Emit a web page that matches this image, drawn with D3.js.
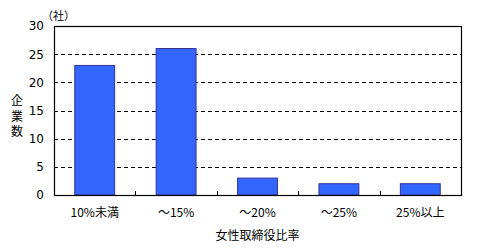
<!DOCTYPE html>
<html>
<head>
<meta charset="utf-8">
<script src="https://cdn.jsdelivr.net/npm/d3@7"></script>
<style>
  body { margin: 0; background: #fff; }
  text { font-family: "Noto Sans CJK JP", "DejaVu Sans", sans-serif; fill: #000; }
</style>
</head>
<body>
<svg id="chart"></svg>
<script>
var categories = ['10%未満', '～15%', '～20%', '～25%', '25%以上'];
var counts = [23, 26, 3, 2, 2];
var yTicks = [0, 5, 10, 15, 20, 25, 30];

var width = 477;
var height = 250;
var margin = { top: 26, bottom: 55, left: 54, right: 16 };

var svg = d3.select('#chart')
            .attr('width', width)
            .attr('height', height);

var xScale = d3.scaleBand()
               .domain(categories)
               .range([margin.left, width - margin.right])
               .paddingInner(0)
               .paddingOuter(0);

var yScale = d3.scaleLinear()
               .domain([0, 30])
               .range([height - margin.bottom, margin.top]);

// dashed grid lines
svg.append('g')
   .selectAll('line')
   .data(yTicks.filter(function(d){ return d > 0 && d < 30; }))
   .enter().append('line')
   .attr('x1', margin.left)
   .attr('x2', width - margin.right)
   .attr('y1', function(d){ return Math.round(yScale(d)) + 0.5; })
   .attr('y2', function(d){ return Math.round(yScale(d)) + 0.5; })
   .attr('stroke', '#000')
   .attr('stroke-width', 1)
   .attr('stroke-dasharray', '4,3');

// bars
var barW = xScale.bandwidth() * 0.49;
svg.append('g')
   .selectAll('rect')
   .data(counts)
   .enter().append('rect')
   .attr('x', function(d, i){ return xScale(categories[i]) + (xScale.bandwidth() - barW) / 2; })
   .attr('y', function(d){ return yScale(d); })
   .attr('width', barW)
   .attr('height', function(d){ return yScale(0) - yScale(d); })
   .attr('fill', '#3366ff')
   .attr('stroke', '#333399')
   .attr('stroke-width', 1);

// plot frame
svg.append('rect')
   .attr('x', margin.left + 0.5)
   .attr('y', margin.top + 0.5)
   .attr('width', width - margin.right - margin.left)
   .attr('height', height - margin.bottom - margin.top)
   .attr('fill', 'none')
   .attr('stroke', '#000')
   .attr('stroke-width', 1.2);

// y axis labels
var yAxis = d3.axisLeft(yScale).tickValues(yTicks).tickSize(0).tickPadding(10);
svg.append('g')
   .attr('transform', 'translate(' + margin.left + ',0)')
   .call(yAxis)
   .call(function(g){ g.select('.domain').remove(); })
   .selectAll('text')
   .style('font-size', '12px')
   .style('font-family', '"DejaVu Sans", sans-serif');

// x axis: small inner ticks at category boundaries
var bounds = categories.slice(1).map(function(c){ return xScale(c); });
svg.append('g')
   .selectAll('line')
   .data(bounds)
   .enter().append('line')
   .attr('x1', function(d){ return Math.round(d) + 0.5; })
   .attr('x2', function(d){ return Math.round(d) + 0.5; })
   .attr('y1', yScale(0))
   .attr('y2', yScale(0) - 4)
   .attr('stroke', '#000')
   .attr('stroke-width', 1);

var xAxis = d3.axisBottom(xScale).tickSize(0).tickPadding(13);
svg.append('g')
   .attr('transform', 'translate(0,' + yScale(0) + ')')
   .call(xAxis)
   .call(function(g){ g.select('.domain').remove(); })
   .selectAll('text')
   .style('font-size', '12px')
   .style('font-family', '"Noto Sans CJK JP", sans-serif');

// axis titles
svg.append('text')
   .attr('x', (margin.left + width - margin.right) / 2)
   .attr('y', 240)
   .attr('text-anchor', 'middle')
   .style('font-size', '12px')
   .text('女性取締役比率');

var yTitle = ['企', '業', '数'];
svg.append('g')
   .selectAll('text')
   .data(yTitle)
   .enter().append('text')
   .attr('x', 17)
   .attr('y', function(d, i){ return 105 + i * 15.5; })
   .attr('text-anchor', 'middle')
   .style('font-size', '12px')
   .text(function(d){ return d; });

svg.append('text')
   .attr('x', 42)
   .attr('y', 20)
   .style('font-size', '11px')
   .text('（社）');
</script>
</body>
</html>
